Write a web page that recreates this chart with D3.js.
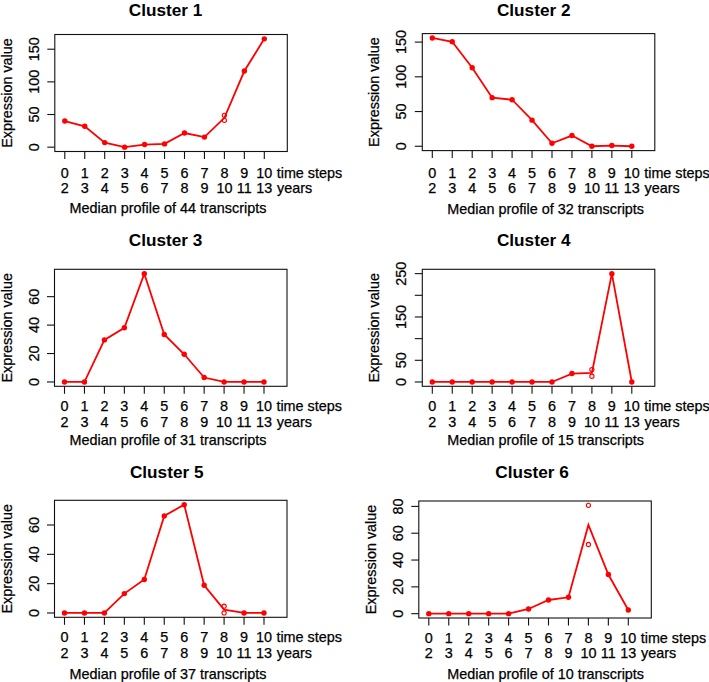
<!DOCTYPE html>
<html><head><meta charset="utf-8">
<script src="https://cdn.jsdelivr.net/npm/d3@7"></script>
<style>body{margin:0;background:#fff}svg{display:block}text{font-family:"Liberation Sans",Arial,Helvetica,sans-serif;fill:#000}
text.n{stroke:#000;stroke-width:0.25}</style>
</head><body><svg id="c" width="709" height="682"></svg>
<script>
// ---- data ----
const steps = [0,1,2,3,4,5,6,7,8,9,10];
const timeLabels = ["0","1","2","3","4","5","6","7","8","9","10"];
const yearLabels = ["2","3","4","5","6","7","8","9","10","11","13"];
const clusterNames = ["Cluster 1","Cluster 2","Cluster 3","Cluster 4","Cluster 5","Cluster 6"];
const transcriptCounts = [44, 32, 31, 15, 37, 10];
const c1 = [40, 32, 7, 0, 4, 5, 21.6, 15.4, 44.9, 116.6, 165.9];
const c2 = [156, 150.5, 113, 70, 67, 37.6, 4.3, 15.4, 0, 1, 0];
const c3 = [0, 0, 29.6, 38.1, 76.2, 33.4, 19.5, 3.1, 0, 0, 0];
const c4 = [0, 0, 0, 0, 0, 0, 0, 19.4, 20.9, 250, 0];
const c5 = [0, 0, 0, 13.2, 22.8, 66.2, 73.9, 18.9, 2.3, 0, 0];
const c6 = [0, 0, 0, 0, 0, 3.5, 10.2, 12.2, 66.2, 29.2, 2.7];
// replicate values at step 8 (open circles); null = none shown
const rep1 = [48.8, 41.1];
const rep2 = null;
const rep3 = null;
const rep4 = [28.7, 13.2];
const rep5 = [4.6, 0];
const rep6 = [80.8, 51.6];
const yt1 = [0,50,100,150], yl1 = [0,50,100,150];
const yt2 = [0,50,100,150], yl2 = [0,50,100,150];
const yt3 = [0,20,40,60],  yl3 = [0,20,40,60];
const yt4 = [0,50,100,150,200,250], yl4 = [0,50,150,250];
const yt5 = [0,20,40,60],  yl5 = [0,20,40,60];
const yt6 = [0,20,40,60,80], yl6 = [0,20,40,60,80];

const series = [c1,c2,c3,c4,c5,c6];
const reps = [rep1,rep2,rep3,rep4,rep5,rep6];
const yTicks = [yt1,yt2,yt3,yt4,yt5,yt6];
const yLabs = [yl1,yl2,yl3,yl4,yl5,yl6];

// ---- layout ----
const layout = [
  {L:54.8, T:34.5, tx:165.5, ty:15.6, xl:168,  r1:177.7, r2:193.2, r3:213.3},
  {L:422.3,T:33.6, tx:533.7, ty:15.6, xl:545.7,r1:177.5, r2:193.0, r3:213.6},
  {L:54.5, T:269.3,tx:165.5, ty:246.3,xl:168,  r1:411.2, r2:426.5, r3:445},
  {L:422.3,T:269.3,tx:533.7, ty:246.3,xl:545.7,r1:411.2, r2:426.5, r3:445},
  {L:54.5, T:500.3,tx:166.7, ty:477.5,xl:168,  r1:642.2, r2:658.2, r3:678.6},
  {L:418.8,T:501,  tx:532,   ty:478,  xl:545.7,r1:642.5, r2:658.2, r3:678.6}
];
const W = 232.5, H = 117, FS = 14.4, red = "#ff0000";
const svg = d3.select("#c");

series.forEach((vals, i) => {
  const lo = layout[i];
  const g = svg.append("g");
  const x = d3.scaleLinear().domain([0,10]).range([lo.L+10, lo.L+209.5]);
  const all = vals.concat(reps[i] || []);
  const mn = d3.min(all), mx = d3.max(all), r = mx - mn;
  const y = d3.scaleLinear().domain([mn-0.04*r, mx+0.04*r]).range([lo.T+H, lo.T]);
  const B = lo.T + H;

  // box
  g.append("rect").attr("x", lo.L).attr("y", lo.T).attr("width", W).attr("height", H)
    .attr("fill","none").attr("stroke","#111").attr("stroke-width",1.1);

  // x ticks
  g.selectAll(".xt").data(steps).join("line")
    .attr("x1", d=>x(d)).attr("x2", d=>x(d)).attr("y1", B).attr("y2", B+7.5)
    .attr("stroke","#111").attr("stroke-width",1.1);
  g.selectAll(".xl1").data(steps).join("text").attr("class","n")
    .attr("x", d=>x(d)).attr("y", lo.r1).attr("text-anchor","middle").attr("font-size",FS)
    .text((d,j)=>timeLabels[j]);
  g.selectAll(".xl2").data(steps).join("text").attr("class","n")
    .attr("x", d=>x(d)).attr("y", lo.r2).attr("text-anchor","middle").attr("font-size",FS)
    .text((d,j)=>yearLabels[j]);
  g.append("text").attr("class","n").attr("x", x(10)+12.4).attr("y", lo.r1).attr("font-size",FS).text("time steps");
  g.append("text").attr("class","n").attr("x", x(10)+12.8).attr("y", lo.r2).attr("font-size",FS).text("years");
  g.append("text").attr("class","n").attr("x", lo.xl).attr("y", lo.r3).attr("text-anchor","middle").attr("font-size",FS)
    .text("Median profile of " + transcriptCounts[i] + " transcripts");

  // y ticks
  g.selectAll(".yt").data(yTicks[i]).join("line")
    .attr("x1", lo.L-7.5).attr("x2", lo.L).attr("y1", d=>y(d)).attr("y2", d=>y(d))
    .attr("stroke","#111").attr("stroke-width",1.1);
  g.selectAll(".yl").data(yLabs[i]).join("text").attr("class","n")
    .attr("transform", d=>`translate(${lo.L-21+5.1},${y(d)}) rotate(-90)`)
    .attr("text-anchor","middle").attr("font-size",FS).text(d=>d);
  g.append("text").attr("class","n")
    .attr("transform", `translate(${lo.L-48+5},${lo.T+H/2}) rotate(-90)`)
    .attr("text-anchor","middle").attr("font-size",FS).text("Expression value");

  // title
  g.append("text").attr("x", lo.tx).attr("y", lo.ty).attr("text-anchor","middle")
    .attr("font-size",17.2).attr("font-weight","bold").text(clusterNames[i]);

  // line
  const line = d3.line().x((d,j)=>x(steps[j])).y(d=>y(d));
  g.append("path").attr("d", line(vals)).attr("fill","none").attr("stroke",red).attr("stroke-width",1.8);
  // filled points
  g.selectAll(".pt").data(vals.map((v,j)=>({s:steps[j],v})).filter(d=>!(reps[i] && d.s===8)))
    .join("circle").attr("cx", d=>x(d.s)).attr("cy", d=>y(d.v)).attr("r",2.7).attr("fill",red);
  // replicate open circles
  if (reps[i]) {
    g.selectAll(".rp").data(reps[i]).join("circle")
      .attr("cx", x(8)).attr("cy", d=>y(d)).attr("r",2.1).attr("fill","none")
      .attr("stroke",red).attr("stroke-width",1.1);
  }
});
</script></body></html>
